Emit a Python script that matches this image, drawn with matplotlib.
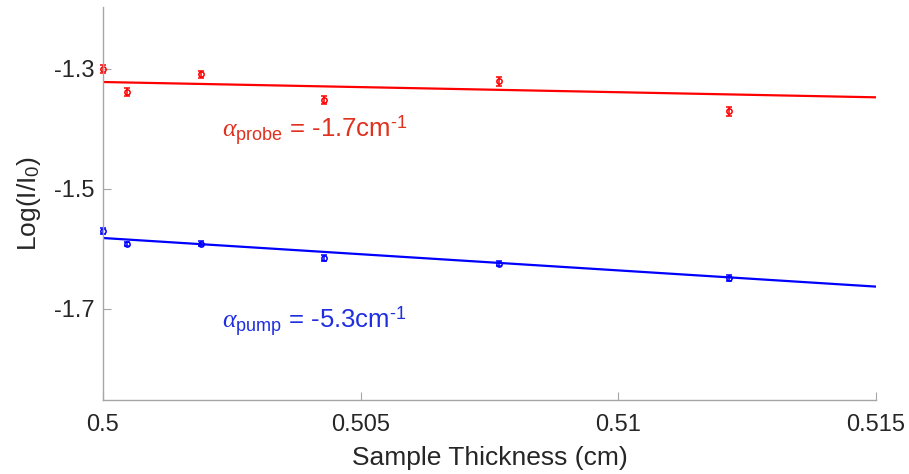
import numpy as np
import matplotlib
matplotlib.use('Agg')
import matplotlib.pyplot as plt

plt.rcParams['font.family'] = ['Liberation Sans', 'DejaVu Sans']
plt.rcParams['mathtext.fontset'] = 'custom'
plt.rcParams['mathtext.rm'] = 'Liberation Sans'
plt.rcParams['mathtext.it'] = 'Liberation Serif:italic'

# sample thickness (cm)
thickness = [0.5, 0.50047, 0.5019, 0.50429, 0.50769, 0.51214]
# log(I/I0) measurements
probe = [-1.300, -1.339, -1.309, -1.352, -1.321, -1.371]
probe_err = [0.007, 0.007, 0.006, 0.007, 0.007, 0.007]
pump = [-1.5695, -1.592, -1.5915, -1.6145, -1.625, -1.649]
pump_err = [0.005, 0.004, 0.004, 0.005, 0.004, 0.005]
# linear fits: value at x=0.5 and slope (per cm)
probe_fit = (-1.322, -1.7)
pump_fit = (-1.582, -5.4)

fig = plt.figure(figsize=(9.09, 4.74), dpi=100)
ax = fig.add_axes([0.1133, 0.1561, 0.8504, 0.8291])

xf = np.array([0.5, 0.515])
ax.plot(xf, probe_fit[0] + probe_fit[1] * (xf - 0.5), color='#ff0000', lw=1.6)
ax.plot(xf, pump_fit[0] + pump_fit[1] * (xf - 0.5), color='#0000ff', lw=1.6)
ax.errorbar(thickness, probe, yerr=probe_err, fmt='o', color='#ff0000', mfc='none',
            ms=3.8, mew=1.1, capsize=2.5, elinewidth=1.1, clip_on=False)
ax.errorbar(thickness, pump, yerr=pump_err, fmt='o', color='#0000ff', mfc='none',
            ms=3.8, mew=1.1, capsize=2.5, elinewidth=1.1, clip_on=False)

ax.text(0.50231, -1.413, r'$\alpha_{\mathrm{probe}}$ = -1.7cm$^{\text{-1}}$', color='#e0301e', fontsize=18.5)
ax.text(0.50231, -1.732, r'$\alpha_{\mathrm{pump}}$ = -5.3cm$^{\text{-1}}$', color='#1f2fe0', fontsize=18.5)

ax.set_xlim(0.5, 0.515)
ax.set_ylim(-1.852, -1.197)
ax.set_xticks([0.5, 0.505, 0.51, 0.515])
ax.set_xticklabels(['0.5', '0.505', '0.51', '0.515'])
ax.set_yticks([-1.7, -1.5, -1.3])
ax.set_yticklabels(['-1.7', '-1.5', '-1.3'])
for s in ['top', 'right']:
    ax.spines[s].set_visible(False)
for s in ['left', 'bottom']:
    ax.spines[s].set_color('#a6a6a6')
    ax.spines[s].set_linewidth(1)
ax.tick_params(axis='y', direction='in', length=5.5, width=0.8, color='#a6a6a6',
               labelsize=17, labelcolor='#262626', pad=6)
ax.tick_params(axis='x', direction='in', length=5.5, width=0.8, color='#a6a6a6',
               labelsize=17, labelcolor='#262626', pad=10)
ax.set_xlabel('Sample Thickness (cm)', fontsize=19, color='#262626', labelpad=7)
ax.set_ylabel(r'Log(I/I$_0$)', fontsize=19, color='#262626', labelpad=8)

plt.savefig('out.png', dpi=100)
